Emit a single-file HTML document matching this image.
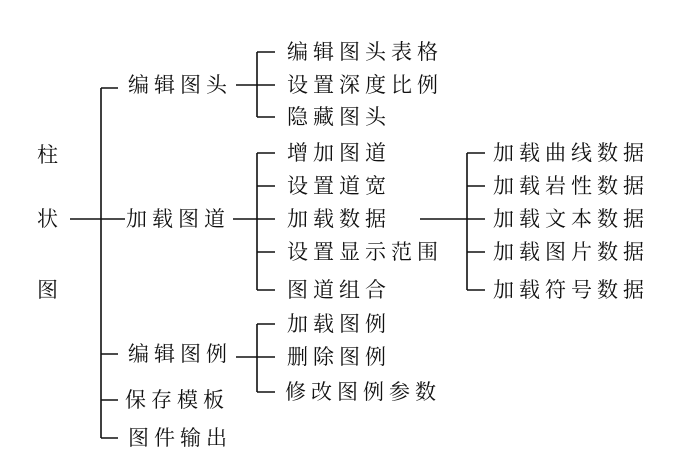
<!DOCTYPE html>
<html><head><meta charset="utf-8"><style>
body{margin:0;background:#fff;width:700px;height:461px;overflow:hidden;position:relative;font-family:"Liberation Serif","Noto Serif CJK SC",serif;color:#111}
.t{position:absolute;font-size:21px;line-height:24px;letter-spacing:5px;white-space:nowrap;transform:translateY(-12px)}
svg{position:absolute;left:0;top:0}
</style></head><body>
<svg width="700" height="461" stroke="#111" stroke-width="1.6" fill="none">
<path d="M101 88V438M101 88H118M70 219H125M101 354H118M101 400H118M101 438H118"/>
<path d="M257 52V117M257 52H275M236 85H275M257 117H275"/>
<path d="M257 153V290M257 153H275M257 186H275M233 219H275M257 252H275M257 290H275"/>
<path d="M257 324V392M257 324H275M236 357H275M257 392H275"/>
<path d="M467 153V290M467 153H485M467 186H485M420 219H485M467 252H485M467 290H485"/>
</svg>
<div class="t" style="left:37px;top:155px">柱</div>
<div class="t" style="left:37px;top:219px">状</div>
<div class="t" style="left:37px;top:290px">图</div>
<div class="t" style="left:128px;top:85px">编辑图头</div>
<div class="t" style="left:126px;top:219px">加载图道</div>
<div class="t" style="left:128px;top:354px">编辑图例</div>
<div class="t" style="left:125px;top:400px">保存模板</div>
<div class="t" style="left:128px;top:438px">图件输出</div>
<div class="t" style="left:287px;top:52px">编辑图头表格</div>
<div class="t" style="left:287px;top:85px">设置深度比例</div>
<div class="t" style="left:287px;top:117px">隐藏图头</div>
<div class="t" style="left:287px;top:153px">增加图道</div>
<div class="t" style="left:287px;top:186px">设置道宽</div>
<div class="t" style="left:287px;top:219px">加载数据</div>
<div class="t" style="left:287px;top:252px">设置显示范围</div>
<div class="t" style="left:287px;top:290px">图道组合</div>
<div class="t" style="left:287px;top:324px">加载图例</div>
<div class="t" style="left:287px;top:357px">删除图例</div>
<div class="t" style="left:285px;top:392px">修改图例参数</div>
<div class="t" style="left:493px;top:153px">加载曲线数据</div>
<div class="t" style="left:493px;top:186px">加载岩性数据</div>
<div class="t" style="left:493px;top:219px">加载文本数据</div>
<div class="t" style="left:493px;top:252px">加载图片数据</div>
<div class="t" style="left:493px;top:290px">加载符号数据</div>
</body></html>
